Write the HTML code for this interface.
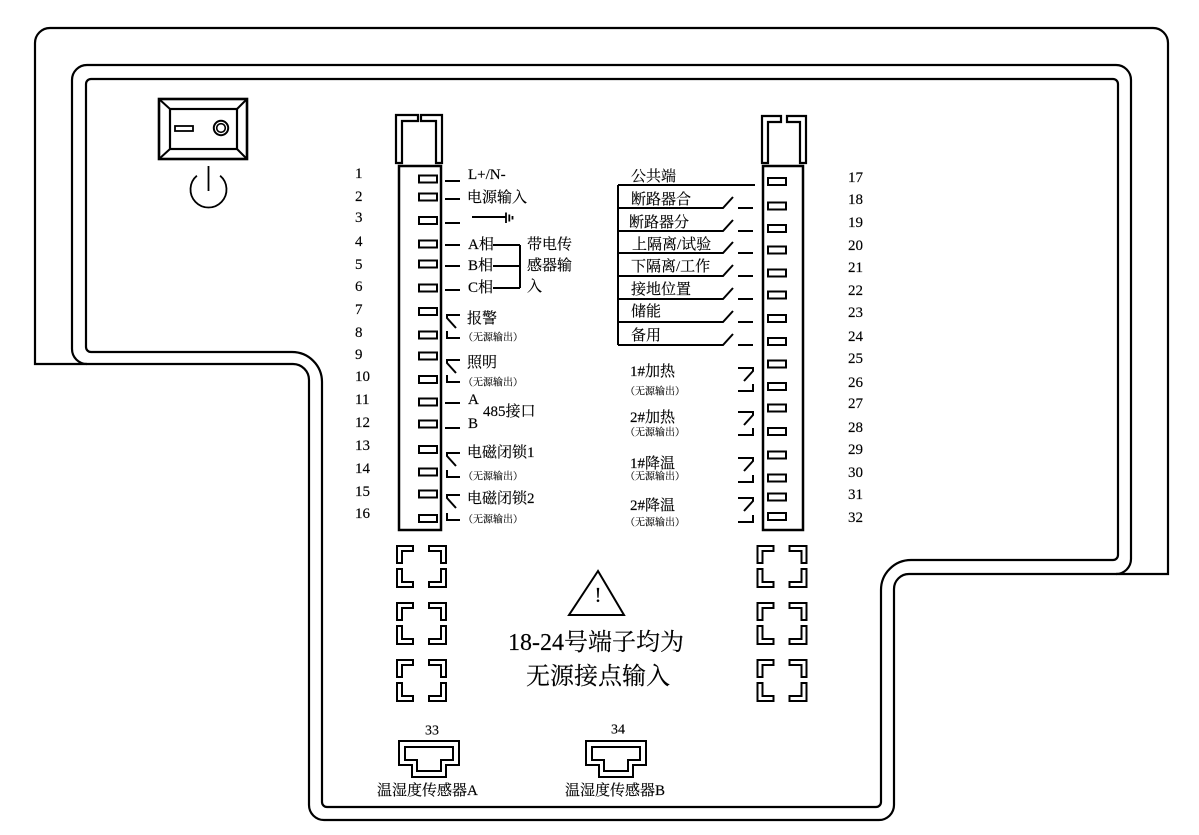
<!DOCTYPE html>
<html><head><meta charset="utf-8"><style>
html,body{margin:0;padding:0;background:#fff;}
svg{display:block;}
text{font-family:"Liberation Serif","Noto Serif CJK SC",serif;fill:#000;stroke:#000;stroke-width:0.15px;dominant-baseline:central;}
.s{font-size:10px;fill:#000;stroke-width:0.1px;}
.n{font-size:15px;}
.l{font-size:15px;}
</style></head><body>
<svg width="1199" height="835" viewBox="0 0 1199 835" xmlns="http://www.w3.org/2000/svg">
<rect width="1199" height="835" fill="#fff"/>
<g fill="none" stroke="#000" stroke-width="2.2">
<path d="M87,364 H35 V43 A15,15 0 0 1 50,28 H1153 A15,15 0 0 1 1168,43 V574 H1116"/>
<path d="M72,80 A15,15 0 0 1 87,65 H1116 A15,15 0 0 1 1131,80 V559 A15,15 0 0 1 1116,574 H909 A15,15 0 0 0 894,589 V805 A15,15 0 0 1 879,820 H324 A15,15 0 0 1 309,805 V380 A16,16 0 0 0 293,364 H87 A15,15 0 0 1 72,349 Z"/>
<path d="M86,84 A5,5 0 0 1 91,79 H1113 A5,5 0 0 1 1118,84 V555 A5,5 0 0 1 1113,560 H911 A30,30 0 0 0 881,590 V802 A5,5 0 0 1 876,807 H327 A5,5 0 0 1 322,802 V382 A30,30 0 0 0 292,352 H91 A5,5 0 0 1 86,347 Z"/>
</g>

<g fill="none" stroke="#000">
<rect x="159" y="99" width="88" height="60" stroke-width="2.6"/>
<rect x="170" y="109" width="67" height="40" stroke-width="2.2"/>
<path d="M159,99 L170,109 M247,99 L237,109 M159,159 L170,149 M247,159 L237,149" stroke-width="2"/>
<rect x="175" y="126" width="18" height="5" stroke-width="1.8"/>
<circle cx="221" cy="128" r="7.2" stroke-width="2"/>
<circle cx="221" cy="128" r="4.3" stroke-width="1.6"/>
<path d="M196.9,175.7 A18,18 0 1 0 220.1,175.7" stroke-width="1.8"/>
<path d="M208.5,166 V191" stroke-width="1.8"/>
</g>

<g fill="none" stroke="#000" stroke-width="2.2">
<path d="M396,163 V115 H418 V121 H402 V163 Z"/>
<path d="M442,163 V115 H421 V121 H436 V163 Z"/>
<path d="M762,163 V116 H781 V122 H768 V163 Z"/>
<path d="M806,163 V116 H787 V122 H800 V163 Z"/>
<rect x="399" y="166" width="42" height="364" stroke-width="2.5"/>
<rect x="763" y="166" width="40" height="364" stroke-width="2.5"/>
</g>

<g fill="none" stroke="#000" stroke-width="2">
<rect x="419" y="175.5" width="18" height="7"/>
<rect x="419" y="193.5" width="18" height="7"/>
<rect x="419" y="217" width="18" height="7"/>
<rect x="419" y="240.5" width="18" height="7"/>
<rect x="419" y="260.5" width="18" height="7"/>
<rect x="419" y="284.5" width="18" height="7"/>
<rect x="419" y="308" width="18" height="7"/>
<rect x="419" y="331.5" width="18" height="7"/>
<rect x="419" y="352.5" width="18" height="7"/>
<rect x="419" y="376" width="18" height="7"/>
<rect x="419" y="398.5" width="18" height="7"/>
<rect x="419" y="420.5" width="18" height="7"/>
<rect x="419" y="446" width="18" height="7"/>
<rect x="419" y="468.5" width="18" height="7"/>
<rect x="419" y="490.5" width="18" height="7"/>
<rect x="419" y="515" width="18" height="7"/>
</g>
<g fill="none" stroke="#000" stroke-width="2">
<rect x="768" y="178" width="18" height="7"/>
<rect x="768" y="202.5" width="18" height="7"/>
<rect x="768" y="225" width="18" height="7"/>
<rect x="768" y="246.5" width="18" height="7"/>
<rect x="768" y="269.5" width="18" height="7"/>
<rect x="768" y="291.5" width="18" height="7"/>
<rect x="768" y="315" width="18" height="7"/>
<rect x="768" y="338" width="18" height="7"/>
<rect x="768" y="360.5" width="18" height="7"/>
<rect x="768" y="383" width="18" height="7"/>
<rect x="768" y="404.5" width="18" height="7"/>
<rect x="768" y="428" width="18" height="7"/>
<rect x="768" y="451.5" width="18" height="7"/>
<rect x="768" y="474.5" width="18" height="7"/>
<rect x="768" y="493.5" width="18" height="7"/>
<rect x="768" y="513" width="18" height="7"/>
</g>

<g fill="none" stroke="#000" stroke-width="2">
<path d="M445,181 H460 M445,199 H460 M445,223 H460 M445,245 H460 M445,266 H460 M445,290 H460 M445,403 H460 M445,428 H460"/>
<path d="M472,217 H506"/>
<path d="M506,212.5 V223 M509.3,214.5 V221.5 M512.5,216 V219.5" stroke-width="1.8"/>
<path d="M493,245 H520 M493,266 H520 M493,288 H520 M520,245 V288"/>
<path d="M460,315 H447 V318 L456,328 M447,331 V338 H460"/>
<path d="M460,360 H447 V363 L456,373 M447,375 V382 H460"/>
<path d="M460,453 H447 V456 L456,466 M447,470 V477 H460"/>
<path d="M460,495 H447 V498 L456,508 M447,513 V520 H460"/>
</g>

<g fill="none" stroke="#000" stroke-width="2">
<path d="M618,185 H755 M618,185 V345"/>
<path d="M618,208 H723 L733,197 M738,208 H753"/>
<path d="M618,231 H723 L733,220 M738,231 H753"/>
<path d="M618,253 H723 L733,242 M738,253 H753"/>
<path d="M618,276 H723 L733,265 M738,276 H753"/>
<path d="M618,299 H723 L733,288 M738,299 H753"/>
<path d="M618,322 H723 L733,311 M738,322 H753"/>
<path d="M618,345 H723 L733,334 M738,345 H753"/>
<path d="M738,368 H753 V371 L744,381 M753,384 V391 H738"/>
<path d="M738,412 H753 V415 L744,425 M753,428 V435 H738"/>
<path d="M738,458 H753 V461 L744,471 M753,475 V482 H738"/>
<path d="M738,498 H753 V501 L744,511 M753,515 V522 H738"/>
</g>

<g fill="none" stroke="#000" stroke-width="2">
<g transform="translate(397,546)">
<path d="M0,17 V0 H16 V5 H5 V17 Z M49,17 V0 H32 V5 H44 V17 Z M0,23 V41 H16 V36 H5 V23 Z M49,23 V41 H32 V36 H44 V23 Z"/>
</g>
<g transform="translate(397,603)">
<path d="M0,17 V0 H16 V5 H5 V17 Z M49,17 V0 H32 V5 H44 V17 Z M0,23 V41 H16 V36 H5 V23 Z M49,23 V41 H32 V36 H44 V23 Z"/>
</g>
<g transform="translate(397,660)">
<path d="M0,17 V0 H16 V5 H5 V17 Z M49,17 V0 H32 V5 H44 V17 Z M0,23 V41 H16 V36 H5 V23 Z M49,23 V41 H32 V36 H44 V23 Z"/>
</g>
<g transform="translate(757.5,546)">
<path d="M0,17 V0 H16 V5 H5 V17 Z M49,17 V0 H32 V5 H44 V17 Z M0,23 V41 H16 V36 H5 V23 Z M49,23 V41 H32 V36 H44 V23 Z"/>
</g>
<g transform="translate(757.5,603)">
<path d="M0,17 V0 H16 V5 H5 V17 Z M49,17 V0 H32 V5 H44 V17 Z M0,23 V41 H16 V36 H5 V23 Z M49,23 V41 H32 V36 H44 V23 Z"/>
</g>
<g transform="translate(757.5,660)">
<path d="M0,17 V0 H16 V5 H5 V17 Z M49,17 V0 H32 V5 H44 V17 Z M0,23 V41 H16 V36 H5 V23 Z M49,23 V41 H32 V36 H44 V23 Z"/>
</g>
<path d="M598,571 L569,615 H624 Z"/>
<path d="M399,741 H459 V765 H446 V777 H412 V765 H399 Z"/>
<path d="M405,747 H453 V760 H441 V771 H417 V760 H405 Z"/>
<path d="M586,741 H646 V765 H633 V777 H599 V765 H586 Z"/>
<path d="M592,747 H640 V760 H628 V771 H604 V760 H592 Z"/>
</g>

<text x="355" y="174" class="n">1</text>
<text x="355" y="197" class="n">2</text>
<text x="355" y="218" class="n">3</text>
<text x="355" y="242" class="n">4</text>
<text x="355" y="265" class="n">5</text>
<text x="355" y="287" class="n">6</text>
<text x="355" y="310" class="n">7</text>
<text x="355" y="333" class="n">8</text>
<text x="355" y="355" class="n">9</text>
<text x="355" y="377" class="n">10</text>
<text x="355" y="400" class="n">11</text>
<text x="355" y="423" class="n">12</text>
<text x="355" y="446" class="n">13</text>
<text x="355" y="469" class="n">14</text>
<text x="355" y="492" class="n">15</text>
<text x="355" y="514" class="n">16</text>

<text x="848" y="178" class="n">17</text>
<text x="848" y="200" class="n">18</text>
<text x="848" y="223" class="n">19</text>
<text x="848" y="246" class="n">20</text>
<text x="848" y="268" class="n">21</text>
<text x="848" y="291" class="n">22</text>
<text x="848" y="313" class="n">23</text>
<text x="848" y="337" class="n">24</text>
<text x="848" y="359" class="n">25</text>
<text x="848" y="383" class="n">26</text>
<text x="848" y="404" class="n">27</text>
<text x="848" y="428" class="n">28</text>
<text x="848" y="450" class="n">29</text>
<text x="848" y="473" class="n">30</text>
<text x="848" y="495" class="n">31</text>
<text x="848" y="518" class="n">32</text>

<text x="468" y="175" class="l">L+/N-</text>
<text x="467" y="198" class="l">电源输入</text>
<text x="468" y="245" class="l">A相</text>
<text x="468" y="266" class="l">B相</text>
<text x="468" y="288" class="l">C相</text>
<text x="527" y="245" class="l">带电传</text>
<text x="527" y="266" class="l">感器输</text>
<text x="527" y="287" class="l">入</text>
<text x="467" y="319" class="l">报警</text>
<text x="463" y="338" class="s">（无源输出）</text>
<text x="467" y="363" class="l">照明</text>
<text x="463" y="383" class="s">（无源输出）</text>
<text x="468" y="400" class="l">A</text>
<text x="468" y="424" class="l">B</text>
<text x="483" y="412" class="l">485接口</text>
<text x="467" y="453" class="l">电磁闭锁1</text>
<text x="463" y="477" class="s">（无源输出）</text>
<text x="467" y="499" class="l">电磁闭锁2</text>
<text x="463" y="520" class="s">（无源输出）</text>

<text x="631" y="177" class="l">公共端</text>
<text x="631" y="200" class="l">断路器合</text>
<text x="629" y="223" class="l">断路器分</text>
<text x="632" y="245" class="l">上隔离/试验</text>
<text x="631" y="267" class="l">下隔离/工作</text>
<text x="631" y="290" class="l">接地位置</text>
<text x="631" y="312" class="l">储能</text>
<text x="631" y="336" class="l">备用</text>
<text x="630" y="372" class="l">1#加热</text>
<text x="625" y="392" class="s">（无源输出）</text>
<text x="630" y="418" class="l">2#加热</text>
<text x="625" y="433" class="s">（无源输出）</text>
<text x="630" y="464" class="l">1#降温</text>
<text x="625" y="477" class="s">（无源输出）</text>
<text x="630" y="506" class="l">2#降温</text>
<text x="625" y="523" class="s">（无源输出）</text>

<text x="598" y="595" text-anchor="middle" style="font-size:21px">!</text>
<text x="596" y="643" text-anchor="middle" style="font-size:24px">18-24号端子均为</text>
<text x="598" y="677" text-anchor="middle" style="font-size:24px">无源接点输入</text>

<text x="432" y="731" text-anchor="middle" style="font-size:14px">33</text>
<text x="618" y="730" text-anchor="middle" style="font-size:14px">34</text>
<text x="377" y="791" class="l">温湿度传感器A</text>
<text x="565" y="791" class="l">温湿度传感器B</text>
</svg>
</body></html>
